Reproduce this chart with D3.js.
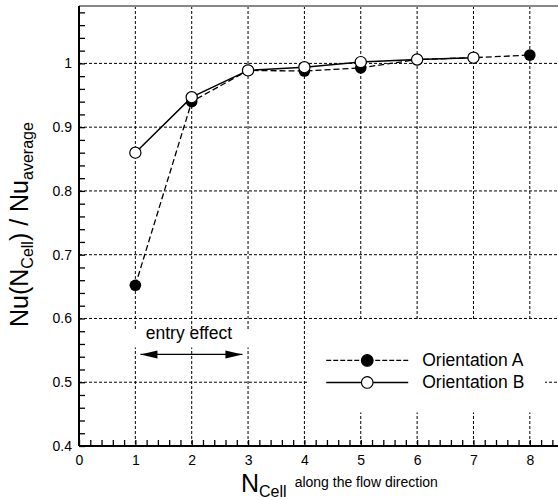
<!DOCTYPE html>
<html>
<head>
<meta charset="utf-8">
<script src="https://cdn.jsdelivr.net/npm/d3@7"></script>
<style>
  html, body { margin: 0; padding: 0; background: #fff; }
  svg { display: block; font-family: "Liberation Sans", Arial, sans-serif; }
</style>
</head>
<body>
<div id="chart"></div>
<script>
// data
const cellsA = [1, 2, 3, 4, 5, 6, 7, 8];
const orientA = [0.652, 0.940, 0.989, 0.988, 0.993, 1.006, 1.009, 1.013];
const cellsB = [1, 2, 3, 4, 5, 6, 7];
const orientB = [0.860, 0.947, 0.989, 0.994, 1.002, 1.006, 1.009];
const xTicks = [0, 1, 2, 3, 4, 5, 6, 7, 8];
const yTicks = [0.4, 0.5, 0.6, 0.7, 0.8, 0.9, 1.0];
const yTickLabels = ["0.4", "0.5", "0.6", "0.7", "0.8", "0.9", "1"];
const legendLabels = ["Orientation A", "Orientation B"];

const width = 558, height = 500;
const margin = { top: 6, right: 0, bottom: 54, left: 79 };
const innerW = width - margin.left - margin.right;
const innerH = height - margin.top - margin.bottom;

const svg = d3.select('#chart').append('svg')
  .attr('width', width)
  .attr('height', height);

const g = svg.append('g').attr('transform', `translate(${margin.left},${margin.top})`);

const x = d3.scaleLinear().domain([0, 8.5]).range([0, innerW]);
const y = d3.scaleLinear().domain([0.4, 1.09]).range([innerH, 0]);

// grid
g.append('g').selectAll('line')
  .data(xTicks.slice(1))
  .enter().append('line')
  .attr('x1', d => x(d)).attr('x2', d => x(d))
  .attr('y1', 0).attr('y2', innerH)
  .attr('stroke', '#000').attr('stroke-width', 1)
  .attr('stroke-dasharray', '3,2');

g.append('g').selectAll('line')
  .data(yTicks.slice(1))
  .enter().append('line')
  .attr('x1', 0).attr('x2', innerW)
  .attr('y1', d => y(d)).attr('y2', d => y(d))
  .attr('stroke', '#000').attr('stroke-width', 1)
  .attr('stroke-dasharray', '3,2');

// top frame line
g.append('line')
  .attr('x1', 0).attr('x2', innerW)
  .attr('y1', 0).attr('y2', 0)
  .attr('stroke', '#888').attr('stroke-width', 2);

// minor ticks (inward)
const yMinor = d3.range(0.4, 1.0801, 0.02);
g.append('g')
  .call(d3.axisRight(y).tickValues(yMinor).tickSize(6).tickFormat(''))
  .call(a => a.select('.domain').remove())
  .call(a => a.selectAll('.tick line').attr('stroke-width', 1.3));

const xMinor = d3.range(0, 8.401, 0.2);
g.append('g')
  .attr('transform', `translate(0,${innerH})`)
  .call(d3.axisTop(x).tickValues(xMinor).tickSize(6).tickFormat(''))
  .call(a => a.select('.domain').remove())
  .call(a => a.selectAll('.tick line').attr('stroke-width', 1.3));

// labelled axes
g.append('g')
  .call(d3.axisLeft(y).tickValues(yTicks).tickSize(0).tickPadding(7)
    .tickFormat((d, i) => yTickLabels[i]))
  .call(a => a.select('.domain').remove())
  .call(a => a.selectAll('.tick text')
    .attr('font-size', 14).attr('fill', '#000')
    .attr('font-family', '"Liberation Sans", Arial, sans-serif'));

g.append('g')
  .attr('transform', `translate(0,${innerH})`)
  .call(d3.axisBottom(x).tickValues(xTicks).tickSize(0).tickPadding(9))
  .call(a => a.select('.domain').remove())
  .call(a => a.selectAll('.tick text')
    .attr('font-size', 14).attr('fill', '#000')
    .attr('font-family', '"Liberation Sans", Arial, sans-serif'));

// axis lines
g.append('line')
  .attr('x1', 0).attr('x2', 0).attr('y1', 0).attr('y2', innerH)
  .attr('stroke', '#000').attr('stroke-width', 2);
g.append('line')
  .attr('x1', 0).attr('x2', innerW).attr('y1', innerH).attr('y2', innerH)
  .attr('stroke', '#000').attr('stroke-width', 2);

// entry effect annotation
g.append('rect')
  .attr('x', x(0.96)).attr('y', y(0.6) + 12)
  .attr('width', x(3.04) - x(0.96)).attr('height', 17)
  .attr('fill', '#fff');
g.append('text')
  .attr('x', x(1.95)).attr('y', y(0.6) + 21)
  .attr('text-anchor', 'middle')
  .attr('font-size', 17.5)
  .text('entry effect');

const arrowY = y(0.6) + 36;
g.append('line')
  .attr('x1', x(1.09)).attr('x2', x(2.9))
  .attr('y1', arrowY).attr('y2', arrowY)
  .attr('stroke', '#000').attr('stroke-width', 1.3);
g.append('path')
  .attr('d', `M${x(1.09)},${arrowY} l17,-4 l0,8 Z`)
  .attr('fill', '#000');
g.append('path')
  .attr('d', `M${x(2.9)},${arrowY} l-17,-4 l0,8 Z`)
  .attr('fill', '#000');

// series
const ptsA = cellsA.map((c, i) => [c, orientA[i]]);
const ptsB = cellsB.map((c, i) => [c, orientB[i]]);
const line = d3.line().x(d => x(d[0])).y(d => y(d[1]));

g.append('path')
  .datum(ptsA)
  .attr('d', line)
  .attr('fill', 'none')
  .attr('stroke', '#000')
  .attr('stroke-width', 1.3)
  .attr('stroke-dasharray', '6,3');

g.append('g').selectAll('circle')
  .data(ptsA)
  .enter().append('circle')
  .attr('cx', d => x(d[0])).attr('cy', d => y(d[1]))
  .attr('r', 5.8)
  .attr('fill', '#000');

g.append('path')
  .datum(ptsB)
  .attr('d', line)
  .attr('fill', 'none')
  .attr('stroke', '#000')
  .attr('stroke-width', 1.5);

g.append('g').selectAll('circle')
  .data(ptsB)
  .enter().append('circle')
  .attr('cx', d => x(d[0])).attr('cy', d => y(d[1]))
  .attr('r', 5.6)
  .attr('fill', '#fff')
  .attr('stroke', '#000')
  .attr('stroke-width', 1.2);

// legend
const legend = g.append('g').attr('transform', `translate(${x(4.05)},${y(0.6) + 2})`);
legend.append('rect')
  .attr('x', 0).attr('y', 0)
  .attr('width', x(8.27) - x(4.05)).attr('height', 92)
  .attr('fill', '#fff');

legendLabels.forEach((lab, i) => {
  const ly = 40 + i * 22;
  legend.append('line')
    .attr('x1', 19).attr('x2', 101)
    .attr('y1', ly).attr('y2', ly)
    .attr('stroke', '#000')
    .attr('stroke-width', i === 0 ? 1.3 : 1.5)
    .attr('stroke-dasharray', i === 0 ? '5,2' : null);
  legend.append('circle')
    .attr('cx', 60).attr('cy', ly)
    .attr('r', 5.8)
    .attr('fill', i === 0 ? '#000' : '#fff')
    .attr('stroke', '#000')
    .attr('stroke-width', 1.2);
  legend.append('text')
    .attr('x', 115).attr('y', ly + 6)
    .attr('font-size', 17.5)
    .text(lab);
});

// axis titles
const xt = svg.append('text')
  .attr('x', 241).attr('y', 492);
xt.append('tspan').attr('font-size', 25).text('N');
xt.append('tspan').attr('font-size', 16).attr('dy', 5).text('Cell');
xt.append('tspan').attr('font-size', 14).attr('dx', 8).attr('dy', -10).text('along the flow direction');

const yt = svg.append('text')
  .attr('transform', 'translate(28,327) rotate(-90)');
yt.append('tspan').attr('font-size', 25).text('Nu(N');
yt.append('tspan').attr('font-size', 16).attr('dy', 5).text('Cell');
yt.append('tspan').attr('font-size', 25).attr('dy', -5).text(') / Nu');
yt.append('tspan').attr('font-size', 16).attr('dy', 5).text('average');
</script>
</body>
</html>
